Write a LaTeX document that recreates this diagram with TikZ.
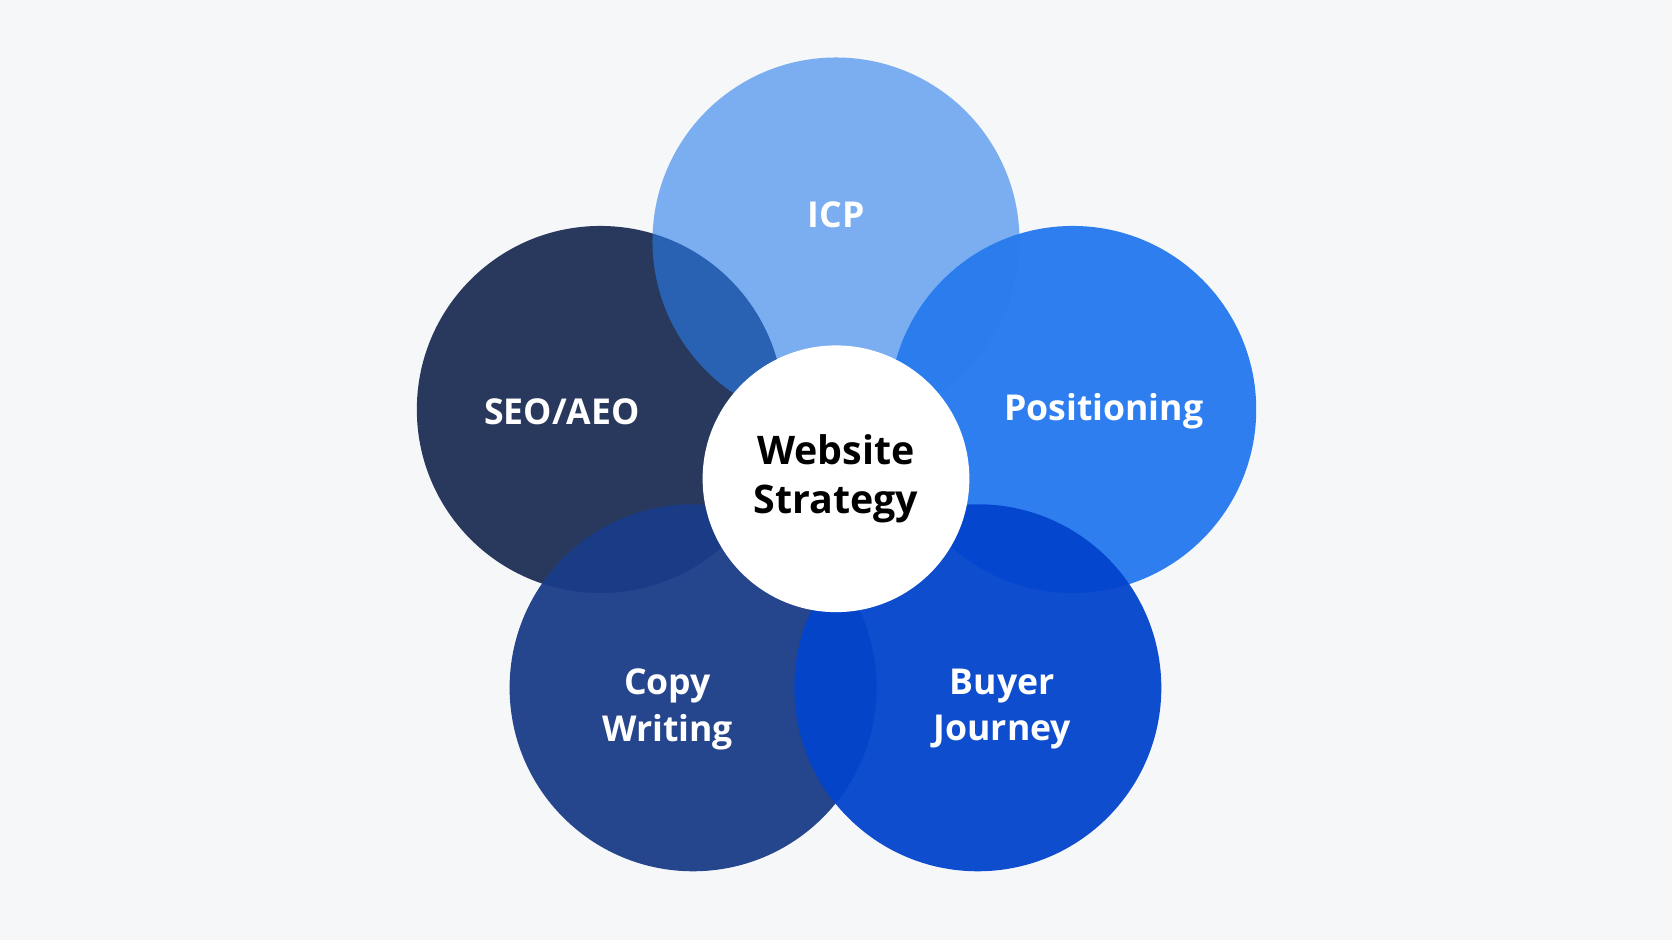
\documentclass[tikz,border=0pt]{standalone}
\usepackage{fontspec}
\setmainfont{Open Sans}
\begin{document}
\begin{tikzpicture}[x=0.01cm,y=-0.01cm]
\fill[fill={rgb,255:red,246;green,247;blue,249}] (0,0) rectangle (1568,882);
\useasboundingbox (0,0) rectangle (1568,882);
\definecolor{cicp}{HTML}{297DED}
\definecolor{cseo}{HTML}{1E2F55}
\definecolor{cpos}{HTML}{2478F0}
\definecolor{ccopy}{HTML}{1A3C88}
\definecolor{cbuy}{HTML}{0244CC}
\tikzset{pc/.style={circle,minimum size=3.44cm,inner sep=0pt,fill opacity=#1},pc/.default=0.95}
\node[pc,fill=cseo] (seo) at (563,384) {};
\node[pc,fill=cpos] (pos) at (1006,384) {};
\node[pc,fill=ccopy] (copy) at (650,645) {};
\node[pc,fill=cbuy] (buy) at (917,645) {};
\node[pc=0.6,fill=cicp] (icp) at (784,226) {};
\tikzset{lb/.style={text=white,font=\bfseries\fontsize{9.5}{12.5}\selectfont,align=center}}
\node[lb] (ticp) at (784,201) {ICP};
\node[lb] (tseo) at (527,386) {SEO/AEO};
\node[lb] (tpos) at (1035,386) {Positioning};
\node[lb] (tcopy) at (626,665) {Copy\\Writing};
\node[lb] (tbuy) at (940,665) {Buyer\\Journey};
\node[circle,fill=white,minimum size=2.5cm,inner sep=0pt,font=\bfseries\fontsize{10.5}{13}\selectfont,align=center] (ws) at (784,449) {Website\\Strategy};
\end{tikzpicture}
\end{document}
